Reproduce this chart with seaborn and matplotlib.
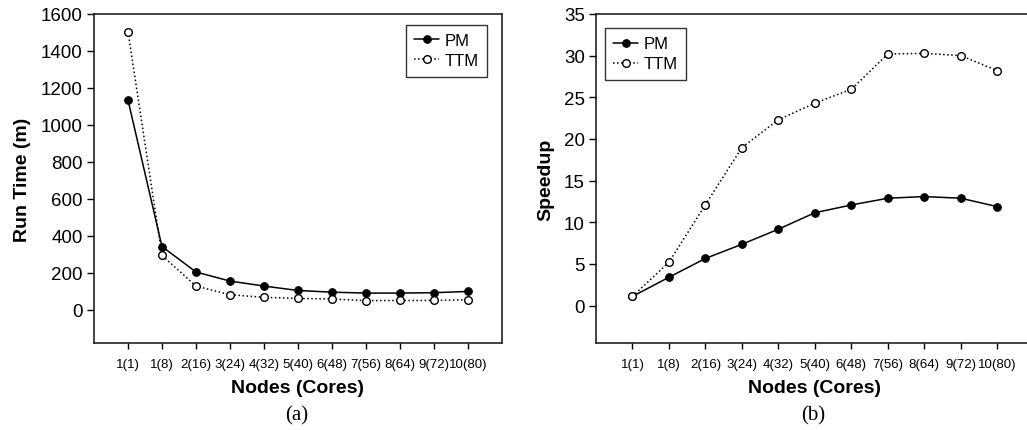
import numpy as np
import pandas as pd
import matplotlib.pyplot as plt
import seaborn as sns

NODE_LABELS = ["1(1)", "1(8)", "2(16)", "3(24)", "4(32)", "5(40)",
               "6(48)", "7(56)", "8(64)", "9(72)", "10(80)"]

PM_RUNTIME = [1135, 342, 204, 155, 128, 104, 95, 90, 90, 92, 99]
TTM_RUNTIME = [1505, 294, 128, 81, 67, 61, 58, 49, 50, 50, 54]

PM_SPEEDUP = [1.09, 3.39, 5.65, 7.35, 9.16, 11.14, 12.07, 12.88, 13.08, 12.88, 11.87]
TTM_SPEEDUP = [1.09, 5.2, 12.1, 18.97, 22.3, 24.3, 25.96, 30.2, 30.28, 30.0, 28.2]

sns.set_style("ticks")
plt.rcParams["font.family"] = ["Liberation Sans", "DejaVu Sans"]
plt.rcParams["text.color"] = "black"
plt.rcParams["axes.labelcolor"] = "black"
plt.rcParams["xtick.color"] = "black"
plt.rcParams["ytick.color"] = "black"


def draw_series(ax, pm, ttm):
    x = np.arange(len(NODE_LABELS))
    sns.lineplot(x=x, y=pm, ax=ax, color="black", linewidth=1.1,
                 marker="o", markersize=5.5, markerfacecolor="black",
                 markeredgecolor="black", label="PM")
    sns.lineplot(x=x, y=ttm, ax=ax, color="black", linewidth=1.1,
                 linestyle=":", marker="o", markersize=5.5,
                 markerfacecolor="white", markeredgecolor="black",
                 markeredgewidth=1.0, label="TTM")


def style_axis(ax, ylabel, legend_loc, legend_anchor):
    ax.set_xlim(-1, 11)
    ax.set_xticks(np.arange(len(NODE_LABELS)))
    ax.set_xticklabels(NODE_LABELS, fontsize=9.5)
    ax.tick_params(axis="y", labelsize=13.5, length=5, width=1, direction="out", pad=3)
    ax.tick_params(axis="x", length=4, width=1, direction="out", pad=7)
    for spine in ax.spines.values():
        spine.set_visible(True)
        spine.set_linewidth(1.2)
        spine.set_color("#222222")
    ax.set_xlabel("Nodes (Cores)", fontsize=14, fontweight="bold", labelpad=6)
    ax.set_ylabel(ylabel, fontsize=14, fontweight="bold", labelpad=7)
    leg = ax.legend(loc=legend_loc, bbox_to_anchor=legend_anchor, fontsize=12,
                    frameon=True, fancybox=False, edgecolor="black",
                    handlelength=1.5, handletextpad=0.3, borderpad=0.5,
                    labelspacing=0.3, borderaxespad=0)
    leg.get_frame().set_linewidth(1.0)


fig = plt.figure(figsize=(10.27, 4.31), dpi=100)
ax1 = fig.add_axes([0.0915, 0.2019, 0.3973, 0.7633])
ax2 = fig.add_axes([0.5803, 0.2019, 0.4263, 0.7633])

draw_series(ax1, PM_RUNTIME, TTM_RUNTIME)
ax1.set_ylim(-180, 1600)
ax1.set_yticks(np.arange(0, 1601, 200))
style_axis(ax1, "Run Time (m)", "upper right", (0.963, 0.967))

draw_series(ax2, PM_SPEEDUP, TTM_SPEEDUP)
ax2.set_ylim(-4.5, 35)
ax2.set_yticks(np.arange(0, 36, 5))
style_axis(ax2, "Speedup", "upper left", (0.021, 0.957))

serif = ["Liberation Serif", "DejaVu Serif"]
fig.text(297 / 1027, 1 - 416 / 431, "(a)", ha="center", va="center",
         fontsize=15, family=serif)
fig.text(813 / 1027, 1 - 416 / 431, "(b)", ha="center", va="center",
         fontsize=15, family=serif)

fig.savefig("out.png", dpi=100)
